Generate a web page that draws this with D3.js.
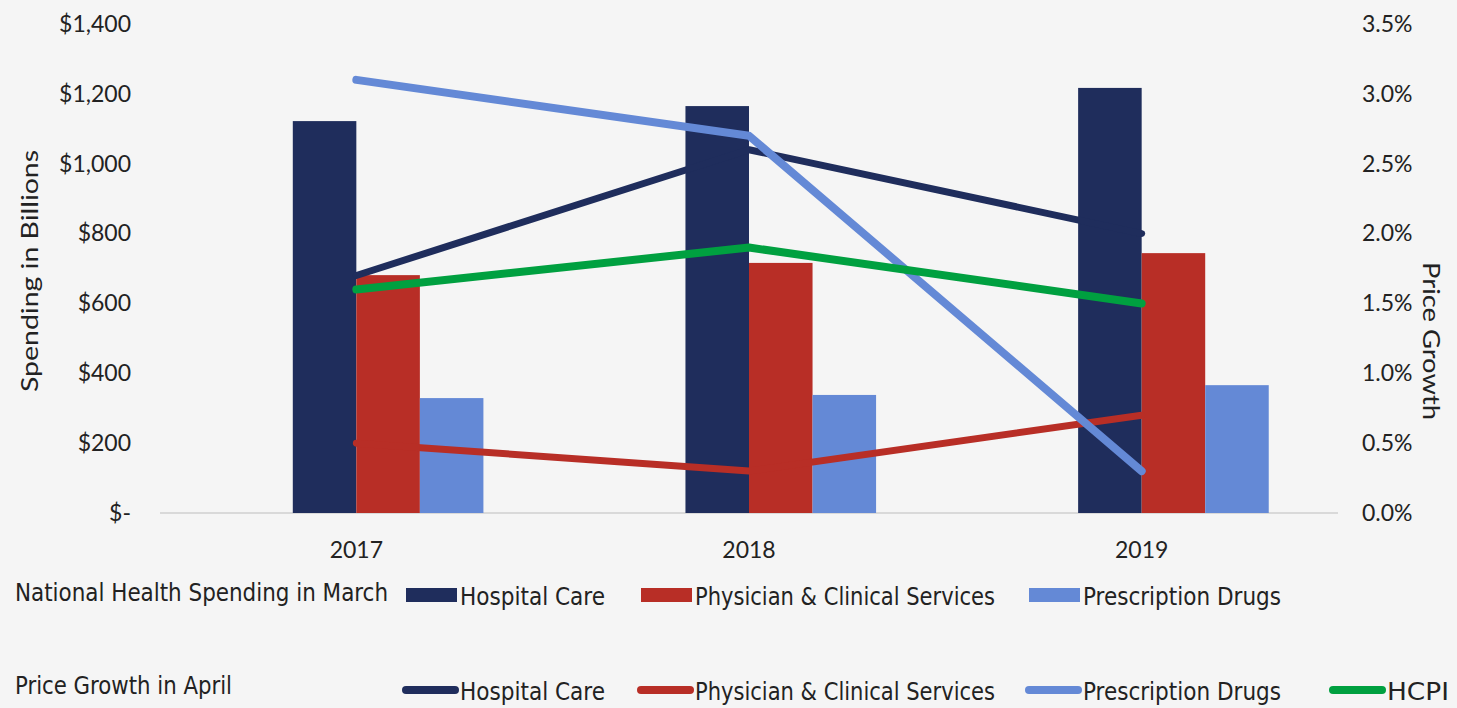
<!DOCTYPE html>
<html>
<head>
<meta charset="utf-8">
<script src="https://cdn.jsdelivr.net/npm/d3@7"></script>
<style>
  body { margin: 0; background: #f5f5f5; }
  svg { display: block; }
  .tick text { font-family: Lato, "Open Sans", sans-serif; font-size: 23px; fill: #222; }
  .leg { font-family: "Liberation Sans Narrow", "DejaVu Sans Condensed", sans-serif; font-size: 24px; fill: #222; }
  .title { font-family: Lato, sans-serif; font-size: 24px; fill: #222; }
</style>
</head>
<body>
<div id="chart"></div>
<script>
// categories
var years = ["2017", "2018", "2019"];
var seriesNames = ["Hospital Care", "Physician & Clinical Services", "Prescription Drugs"];

// spending in March ($ billions)
var hospitalSpend = [1122, 1165, 1217];
var physicianSpend = [681, 716, 744];
var drugSpend = [329, 338, 366];

// price growth in April (%)
var hospitalGrowth = [0.017, 0.026, 0.020];
var physicianGrowth = [0.005, 0.003, 0.007];
var drugGrowth = [0.031, 0.027, 0.003];
var hcpiGrowth = [0.016, 0.019, 0.015];

var leftTicks = [0, 200, 400, 600, 800, 1000, 1200, 1400];
var rightTicks = [0, 0.005, 0.01, 0.015, 0.02, 0.025, 0.03, 0.035];

var colors = ["#1f2d5c", "#b82e26", "#6489d6"];
var hcpiColor = "#00a040";

var width = 1457, height = 708;

var svg = d3.select("#chart").append("svg")
    .attr("width", width)
    .attr("height", height);

var x0 = d3.scaleBand().domain(years).range([160, 1338]);
// first slot is empty in the source chart, bars sit right of it
var x1 = d3.scaleBand()
    .domain(["gap"].concat(seriesNames))
    .range([0, x0.bandwidth()])
    .paddingOuter(1.09);

var yL = d3.scaleLinear().domain([0, 1400]).range([513, 24]);
var yR = d3.scaleLinear().domain([0, 0.035]).range([513, 24]);

// baseline
svg.append("line")
    .attr("x1", 160).attr("x2", 1338)
    .attr("y1", yL(0)).attr("y2", yL(0))
    .attr("stroke", "#d9d9d9")
    .attr("stroke-width", 2);

// bars
var spend = [hospitalSpend, physicianSpend, drugSpend];
var barData = [];
years.forEach(function (yr, i) {
    seriesNames.forEach(function (s, j) {
        barData.push({year: yr, series: s, value: spend[j][i], color: colors[j]});
    });
});

svg.append("g").selectAll("rect")
    .data(barData)
    .enter().append("rect")
    .attr("x", function (d) { return x0(d.year) + x1(d.series); })
    .attr("y", function (d) { return yL(d.value); })
    .attr("width", x1.bandwidth())
    .attr("height", function (d) { return yL(0) - yL(d.value); })
    .attr("fill", function (d) { return d.color; });

// lines
var lineSeries = [
    {values: hospitalGrowth, color: colors[0], w: 7},
    {values: physicianGrowth, color: colors[1], w: 7},
    {values: drugGrowth, color: colors[2], w: 8},
    {values: hcpiGrowth, color: hcpiColor, w: 8}
];

var line = d3.line()
    .x(function (d, i) { return x0(years[i]) + x0.bandwidth() / 2; })
    .y(function (d) { return yR(d); });

svg.append("g").selectAll("path")
    .data(lineSeries)
    .enter().append("path")
    .attr("d", function (d) { return line(d.values); })
    .attr("fill", "none")
    .attr("stroke", function (d) { return d.color; })
    .attr("stroke-width", function (d) { return d.w; })
    .attr("stroke-linecap", "round")
    .attr("stroke-linejoin", "round");

// axes
var leftAxis = d3.axisLeft(yL)
    .tickValues(leftTicks)
    .tickSize(0)
    .tickPadding(0)
    .tickFormat(function (d) { return d === 0 ? "$-" : "$" + d3.format(",")(d); });

svg.append("g")
    .attr("transform", "translate(131,0)")
    .call(leftAxis)
    .call(function (g) { g.select(".domain").remove(); });

var rightAxis = d3.axisRight(yR)
    .tickValues(rightTicks)
    .tickSize(0)
    .tickPadding(0)
    .tickFormat(d3.format(".1%"));

svg.append("g")
    .attr("transform", "translate(1362,0)")
    .call(rightAxis)
    .call(function (g) { g.select(".domain").remove(); });

var xAxis = d3.axisBottom(x0).tickSize(0).tickPadding(0);
svg.append("g")
    .attr("transform", "translate(0,542)")
    .call(xAxis)
    .call(function (g) { g.select(".domain").remove(); });

// axis titles
svg.append("text").attr("class", "title")
    .attr("transform", "translate(38,271) rotate(-90)")
    .attr("text-anchor", "middle")
    .attr("textLength", 242)
    .attr("lengthAdjust", "spacingAndGlyphs")
    .text("Spending in Billions");

svg.append("text").attr("class", "title")
    .attr("transform", "translate(1423,341) rotate(90)")
    .attr("text-anchor", "middle")
    .attr("textLength", 158)
    .attr("lengthAdjust", "spacingAndGlyphs")
    .text("Price Growth");

// legend
function legText(x, y, txt, len) {
    svg.append("text").attr("class", "leg")
        .attr("x", x).attr("y", y)
        .attr("textLength", len)
        .attr("lengthAdjust", "spacingAndGlyphs")
        .text(txt);
}

var legX = [406, 641, 1029];
var legLen = [145, 300, 198];

legText(15, 601, "National Health Spending in March", 373);

seriesNames.forEach(function (s, j) {
    svg.append("rect")
        .attr("x", legX[j]).attr("y", 588)
        .attr("width", 51).attr("height", 14)
        .attr("fill", colors[j]);
    legText(legX[j] + 54, 605, s, legLen[j]);
});

legText(15, 694, "Price Growth in April", 217);

var lineLegX = legX.concat([1333]);
var lineLegNames = seriesNames.concat(["HCPI"]);
var lineLegLen = legLen.concat([62]);
lineSeries.forEach(function (d, j) {
    svg.append("line")
        .attr("x1", lineLegX[j]).attr("x2", lineLegX[j] + 49)
        .attr("y1", 690).attr("y2", 690)
        .attr("stroke", d.color)
        .attr("stroke-width", 8)
        .attr("stroke-linecap", "round");
    legText(lineLegX[j] + 54, 700, lineLegNames[j], lineLegLen[j]);
});
</script>
</body>
</html>
